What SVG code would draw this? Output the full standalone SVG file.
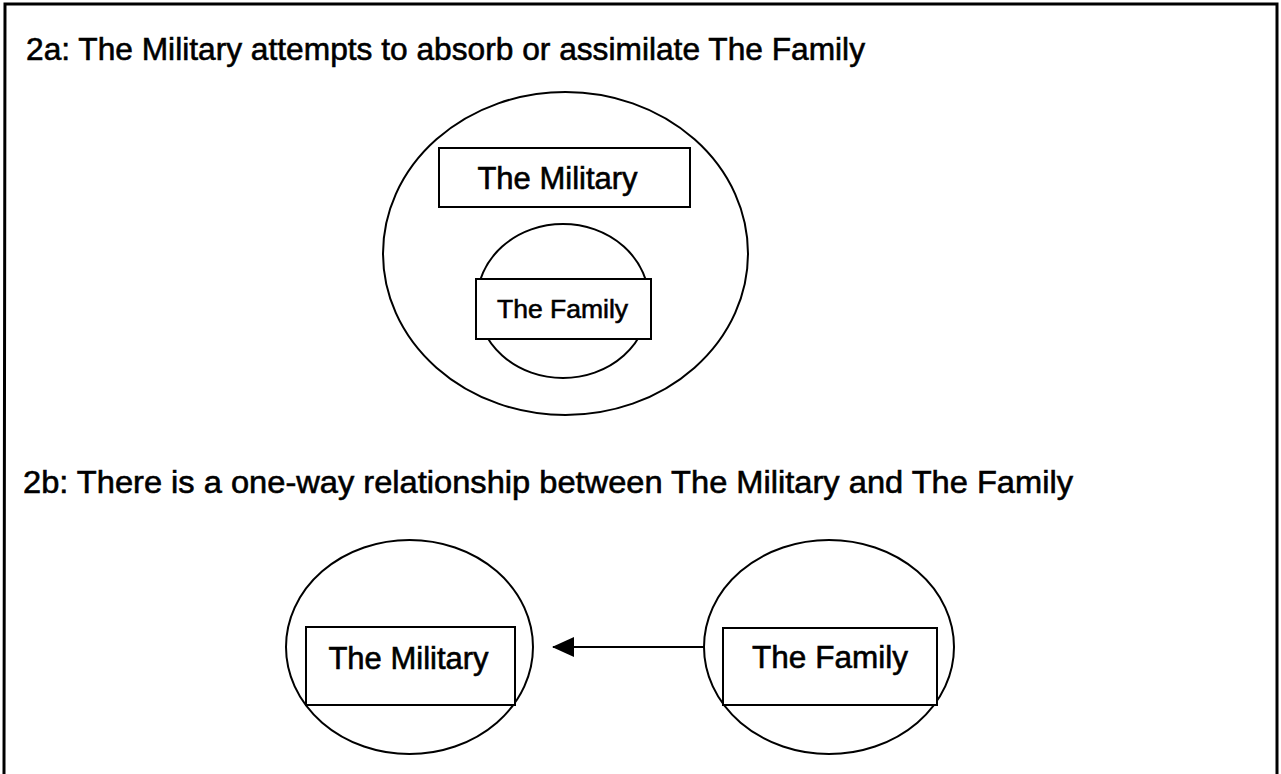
<svg xmlns="http://www.w3.org/2000/svg" width="1281" height="774" viewBox="0 0 1281 774">
<style>
.ln{fill:none;stroke:#000;stroke-width:2}
.bx{fill:#fff;stroke:#000;stroke-width:2}
.t{font-family:"Liberation Sans",Arial,sans-serif;fill:#000;stroke:#000;stroke-width:0.6}
</style>
<defs>
<marker id="ah" markerWidth="22" markerHeight="20" refX="21" refY="10" orient="auto" markerUnits="userSpaceOnUse" viewBox="0 0 22 20">
<path d="M0,10 L22,0 L22,20 Z" transform="rotate(180 11 10)" fill="#000"/>
</marker>
</defs>
<rect width="1281" height="774" fill="#fff"/>
<path d="M4,774 L5,4 L1277,4 L1277,774" fill="none" stroke="#000" stroke-width="3"/>
<text class="t" x="26" y="60" font-size="32" textLength="839" lengthAdjust="spacingAndGlyphs">2a: The Military attempts to absorb or assimilate The Family</text>
<text class="t" x="23" y="493" font-size="32" textLength="1050" lengthAdjust="spacingAndGlyphs">2b: There is a one-way relationship between The Military and The Family</text>
<g id="a-military">
<ellipse class="ln" cx="565.5" cy="253.5" rx="182.5" ry="161.5"/>
<rect class="bx" x="439" y="148" width="251" height="59"/>
<text class="t" x="557.5" y="189" font-size="31" text-anchor="middle">The Military</text>
</g>
<g id="a-family">
<ellipse class="ln" cx="563" cy="301" rx="86" ry="77"/>
<rect class="bx" x="476" y="279" width="175" height="60"/>
<text class="t" x="562.5" y="318" font-size="26.5" text-anchor="middle">The Family</text>
</g>
<g id="b-military">
<ellipse class="ln" cx="409.5" cy="647" rx="123.5" ry="107"/>
<rect class="bx" x="306" y="627" width="209" height="78"/>
<text class="t" x="408.5" y="669" font-size="31" text-anchor="middle">The Military</text>
</g>
<g id="b-family">
<ellipse class="ln" cx="829" cy="647" rx="125" ry="107"/>
<rect class="bx" x="723" y="628" width="214" height="77"/>
<text class="t" x="830" y="668" font-size="31.5" text-anchor="middle">The Family</text>
</g>
<g id="connectors">
<line x1="704" y1="647" x2="553" y2="647" stroke="#000" stroke-width="2" marker-end="url(#ah)"/>
</g>
</svg>
